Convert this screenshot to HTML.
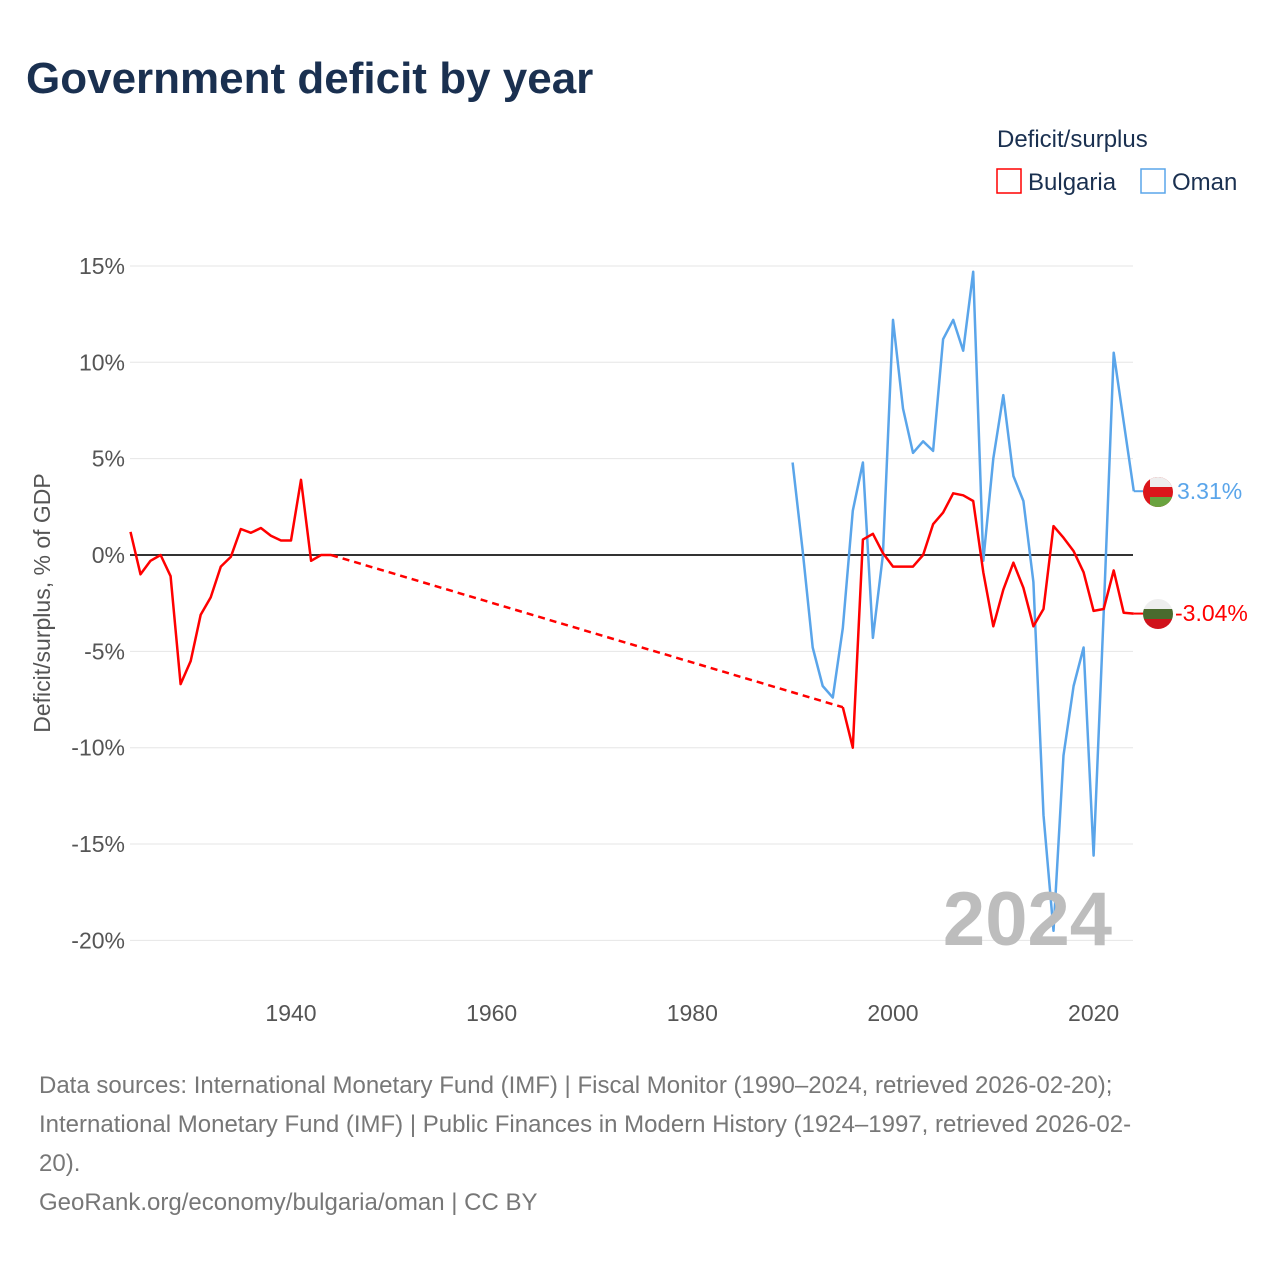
<!DOCTYPE html>
<html><head><meta charset="utf-8"><style>
body{margin:0;background:#fff;font-family:"Liberation Sans",sans-serif;}
</style></head><body>
<div style="position:relative;width:1280px;height:1280px;">
<svg id="svg" width="1280" height="1280" xmlns="http://www.w3.org/2000/svg" style="position:absolute;left:0;top:0">
<text x="26" y="93" font-size="44" font-weight="bold" fill="#1a3050" font-family="Liberation Sans, sans-serif">Government deficit by year</text>
<text x="997" y="147" font-size="24" fill="#1a3050">Deficit/surplus</text>
<g><rect x="997" y="169" width="24" height="24" fill="none" stroke="#ff0000" stroke-width="1.5"/><text x="1028" y="190" font-size="24" fill="#1a3050">Bulgaria</text></g>
<g><rect x="1141" y="169" width="24" height="24" fill="none" stroke="#5aa5ea" stroke-width="1.5"/><text x="1172" y="190" font-size="24" fill="#1a3050">Oman</text></g>
<g id="grid"></g><g id="lines"></g>
<text transform="translate(50,603) rotate(-90)" text-anchor="middle" font-size="23" fill="#555">Deficit/surplus, % of GDP</text>
<text x="1112" y="945" text-anchor="end" font-size="76" font-weight="bold" fill="#bdbdbd">2024</text>
<g>
<clipPath id="c1"><circle cx="1158" cy="492" r="15"/></clipPath>
<g clip-path="url(#c1)"><rect x="1143" y="477" width="30" height="30" fill="#db161b"/><rect x="1150" y="477" width="23" height="10" fill="#eee"/><rect x="1150" y="497" width="23" height="10" fill="#6aa33f"/></g></g>
<g>
<clipPath id="c2"><circle cx="1158" cy="614" r="15"/></clipPath>
<g clip-path="url(#c2)"><rect x="1143" y="599" width="30" height="10" fill="#eee"/><rect x="1143" y="609" width="30" height="10" fill="#4a6b2e"/><rect x="1143" y="619" width="30" height="10" fill="#d0121b"/></g></g>
<text x="1177" y="499" font-size="23" fill="#5aa5ea">3.31%</text>
<text x="1175" y="621" font-size="23" fill="#ff0000">-3.04%</text>
<g font-size="24" fill="#777">
<text x="39" y="1093">Data sources: International Monetary Fund (IMF) | Fiscal Monitor (1990–2024, retrieved 2026-02-20);</text>
<text x="39" y="1132">International Monetary Fund (IMF) | Public Finances in Modern History (1924–1997, retrieved 2026-02-</text>
<text x="39" y="1171">20).</text>
<text x="39" y="1210">GeoRank.org/economy/bulgaria/oman | CC BY</text>
</g>
</svg>
</div>
<script>
const yTicks=[15,10,5,0,-5,-10,-15,-20];
const xTicks=[1940,1960,1980,2000,2020];
const bgYears1=[1924,1925,1926,1927,1928,1929,1930,1931,1932,1933,1934,1935,1936,1937,1938,1939,1940,1941,1942,1943,1944];
const bgVals1=[1.2,-1.0,-0.3,0,-1.1,-6.7,-5.5,-3.1,-2.2,-0.6,-0.1,1.35,1.15,1.4,1.0,0.75,0.75,3.9,-0.3,0,0];
const bgYears2=[1995,1996,1997,1998,1999,2000,2001,2002,2003,2004,2005,2006,2007,2008,2009,2010,2011,2012,2013,2014,2015,2016,2017,2018,2019,2020,2021,2022,2023,2024];
const bgVals2=[-7.9,-10,0.8,1.1,0.1,-0.6,-0.6,-0.6,0,1.6,2.2,3.2,3.1,2.8,-0.9,-3.7,-1.8,-0.4,-1.7,-3.7,-2.8,1.5,0.9,0.2,-0.9,-2.9,-2.8,-0.8,-3.0,-3.04];
const omYears=[1990,1991,1992,1993,1994,1995,1996,1997,1998,1999,2000,2001,2002,2003,2004,2005,2006,2007,2008,2009,2010,2011,2012,2013,2014,2015,2016,2017,2018,2019,2020,2021,2022,2023,2024];
const omVals=[4.8,0.2,-4.8,-6.8,-7.4,-3.8,2.3,4.8,-4.3,0,12.2,7.6,5.3,5.9,5.4,11.2,12.2,10.6,14.7,-0.3,5.0,8.3,4.1,2.8,-1.4,-13.5,-19.5,-10.4,-6.8,-4.8,-15.6,-3.0,10.5,6.9,3.31];
const X=y=>291+(y-1940)*10.033;
const Y=v=>555-v*19.27;
const NS='http://www.w3.org/2000/svg';
const grid=document.getElementById('grid'),lines=document.getElementById('lines');
function mk(t,a,p){const e=document.createElementNS(NS,t);for(const k in a)e.setAttribute(k,a[k]);p.appendChild(e);return e;}
yTicks.forEach(v=>{
 const l=mk('line',{x1:130,x2:1133,y1:Y(v),y2:Y(v),stroke:v===0?'#333':'#e6e6e6','stroke-width':v===0?2:1},grid);
 
 
 const t=mk('text',{x:125,y:Y(v)+8,'text-anchor':'end','font-size':23,fill:'#555'},grid);
 t.textContent=v+'%';
 
 
});
xTicks.forEach(y=>{
 const t=mk('text',{x:X(y),y:1021,'text-anchor':'middle','font-size':23,fill:'#555'},grid);
 t.textContent=y;
 
 
});
function pts(ys,vs){return ys.map((y,i)=>X(y).toFixed(1)+','+Y(vs[i]).toFixed(1)).join(' ');}
let p=mk('polyline',{points:pts(omYears,omVals),fill:'none',stroke:'#5aa5ea','stroke-width':2.5,'stroke-linejoin':'round'},lines);


p=mk('polyline',{points:pts(bgYears1,bgVals1),fill:'none',stroke:'#ff0000','stroke-width':2.5,'stroke-linejoin':'round'},lines);


p=mk('line',{x1:X(bgYears1[bgYears1.length-1]),y1:Y(bgVals1[bgVals1.length-1]),x2:X(bgYears2[0]),y2:Y(bgVals2[0]),stroke:'#ff0000','stroke-width':2.5,'stroke-dasharray':'7,5'},lines);


p=mk('polyline',{points:pts(bgYears2,bgVals2),fill:'none',stroke:'#ff0000','stroke-width':2.5,'stroke-linejoin':'round'},lines);


p=mk('line',{x1:X(2024),y1:Y(3.31),x2:1143,y2:Y(3.31),stroke:'#5aa5ea','stroke-width':2},lines);


p=mk('line',{x1:X(2024),y1:Y(-3.04),x2:1143,y2:Y(-3.04),stroke:'#ff0000','stroke-width':2},lines);


</script>
</body></html>
